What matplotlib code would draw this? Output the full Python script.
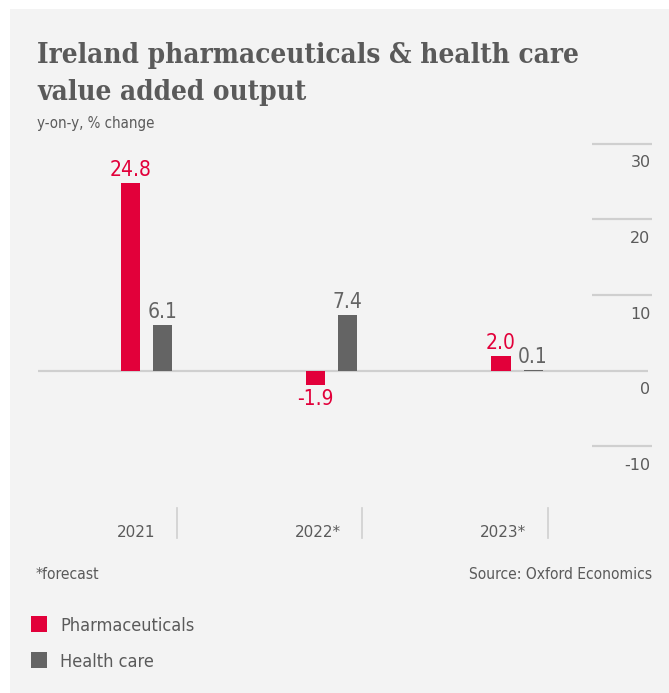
import numpy as np
import matplotlib
matplotlib.use("Agg")
import matplotlib.pyplot as plt
from matplotlib.patches import Rectangle

# ---- data ----
categories = ["2021", "2022*", "2023*"]
series_names = ["Pharmaceuticals", "Health care"]
pharma = [24.8, -1.9, 2.0]
health = [6.1, 7.4, 0.1]
value_labels_pharma = ["24.8", "-1.9", "2.0"]
value_labels_health = ["6.1", "7.4", "0.1"]
yticks = [-10, 0, 10, 20, 30]
ytick_labels = ["-10", "0", "10", "20", "30"]
title_lines = ["Ireland pharmaceuticals & health care", "value added output"]
subtitle = "y-on-y, % change"
footnote = "*forecast"
source = "Source: Oxford Economics"

# ---- style ----
RED = "#e2003a"
GREY = "#646464"
TEXT = "#5a5a5a"
BG = "#f3f3f3"
GRID = "#cfcfcf"
SANS = "DejaVu Sans"
SERIF = "DejaVu Serif"
W, H = 669, 693

fig = plt.figure(figsize=(W / 100, H / 100), dpi=100)
fig.patch.set_facecolor("white")

def fx(x):
    return x / W

def fy(y):
    return 1 - y / H

# panel
fig.patches.append(Rectangle((fx(10), 0), 1 - fx(10), fy(9), transform=fig.transFigure,
                             facecolor=BG, edgecolor="none", zorder=-5))

# title & subtitle
for line, base in zip(title_lines, [63, 100]):
    fig.text(fx(37), fy(base), line, fontsize=20, fontweight="heavy", family=SERIF,
             fontstretch="condensed", color=TEXT, va="baseline", ha="left")
fig.text(fx(37), fy(128), subtitle, fontsize=10.8, family=SANS, fontstretch="condensed",
         color=TEXT, va="baseline", ha="left")

# axes
top_px, bot_px = 136.1, 476.6
ax = fig.add_axes([fx(38), fy(bot_px), fx(652) - fx(38), (bot_px - top_px) / H])
ax.set_facecolor("none")
ax.set_zorder(2)
ax.set_ylim(-14, 31)
ax.set_xlim(-0.5857, 2.7287)
for s in ax.spines.values():
    s.set_visible(False)
ax.set_xticks([])
ax.set_yticks([])

x = np.arange(len(categories))
bw = 0.1026
off = 0.0864
b1 = ax.bar(x - off, pharma, width=bw, color=RED, zorder=3, label=series_names[0])
b2 = ax.bar(x + off, health, width=bw, color=GREY, zorder=3, label=series_names[1])

# gridlines (right side only) and zero line
ytr = ax.get_yaxis_transform()
for v, lab in zip(yticks, ytick_labels):
    if v == 0:
        ax.hlines(v, 0, 0.9935, transform=ytr, color=GRID, lw=1.6, zorder=2)
    else:
        ax.hlines(v, 0.902, 1.0, transform=ytr, color=GRID, lw=1.6, zorder=2)
    ax.annotate(lab, xy=(1.0, v), xycoords=ytr, xytext=(-1, -13.7), textcoords="offset points",
                ha="right", va="center", fontsize=11.5, family=SANS, color=TEXT)

# value labels
for bars, vals, labs, col in [(b1, pharma, value_labels_pharma, RED),
                              (b2, health, value_labels_health, GREY)]:
    for rect, v, lab in zip(bars, vals, labs):
        cx = rect.get_x() + rect.get_width() / 2
        if v >= 0:
            ax.annotate(lab, xy=(cx, v), xytext=(0, 5), textcoords="offset points",
                        ha="center", va="baseline", fontsize=15, family=SANS,
                        fontstretch="condensed", color=col)
        else:
            ax.annotate(lab, xy=(cx, v), xytext=(0, -3), textcoords="offset points",
                        ha="center", va="top", fontsize=15, family=SANS,
                        fontstretch="condensed", color=col)

# category labels and separators
xtr = ax.get_xaxis_transform()
def ay(ypx):
    return (bot_px - ypx) / (bot_px - top_px)
for i, c in enumerate(categories):
    ax.text(i + 0.05, ay(537), c, transform=xtr, ha="right", va="baseline",
            fontsize=11, family=SANS, color=TEXT, clip_on=False)
    ax.plot([i + 0.165, i + 0.165], [ay(508), ay(538)], transform=xtr, color=GRID,
            lw=1.2, clip_on=False)

# footnote and source
fig.text(fx(36), fy(579), footnote, fontsize=11.2, family=SANS, fontstretch="condensed",
         color=TEXT, va="baseline", ha="left")
fig.text(fx(652), fy(579), source, fontsize=11.2, family=SANS, fontstretch="condensed",
         color=TEXT, va="baseline", ha="right")

# legend
for (bars, name), ytop in zip([(b1, series_names[0]), (b2, series_names[1])], [616, 652]):
    fig.patches.append(Rectangle((fx(31), fy(ytop + 16)), 16 / W, 16 / H, transform=fig.transFigure,
                                 facecolor=bars.patches[0].get_facecolor(), edgecolor="none"))
    fig.text(fx(60), fy(ytop + 15), name, fontsize=13, family=SANS, fontstretch="condensed",
             color=TEXT, va="baseline", ha="left")

fig.savefig("out.png", dpi=100, facecolor=fig.get_facecolor())
